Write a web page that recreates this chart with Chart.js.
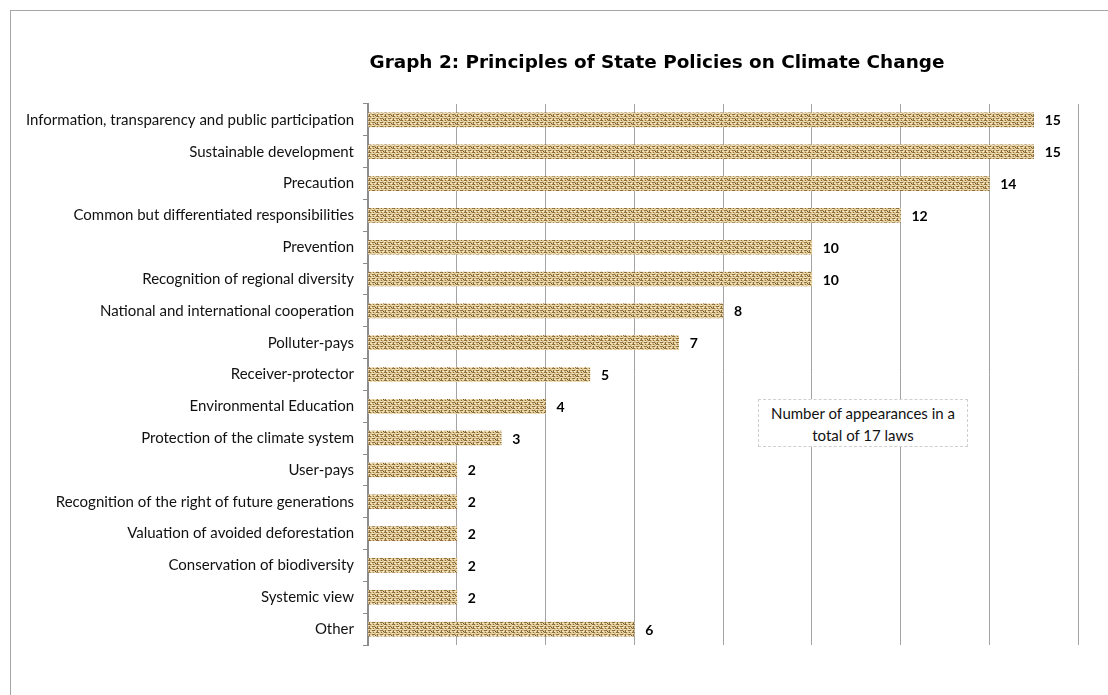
<!DOCTYPE html>
<html>
<head>
<meta charset="utf-8">
<script src="https://cdn.jsdelivr.net/npm/chart.js@4.4.0/dist/chart.umd.min.js"></script>
<style>
  body { margin: 0; background: #fff; overflow: hidden; }
  #wrap { position: relative; width: 1108px; height: 695px; }
  #frame { position: absolute; left: 10px; top: 10px; width: 1200px; height: 800px;
           border: 1px solid #a6a6a6; }
  #note { position: absolute; left: 758px; top: 399px; width: 210px; height: 48px;
          border: 1px dashed #cfcfcf; font: 15px Lato, "Open Sans", sans-serif; color: #111;
          text-align: center; line-height: 22px; box-sizing: border-box; padding-top: 2px; background: #fff; }
</style>
</head>
<body>
<div id="wrap">
  <div id="frame"></div>
  <canvas id="chart" width="1108" height="695"></canvas>
  <div id="note">Number of appearances in a<br>total of 17 laws</div>
</div>
<script>
"use strict"
// Data
const principles = [
  "Information, transparency and public participation",
  "Sustainable development",
  "Precaution",
  "Common but differentiated responsibilities",
  "Prevention",
  "Recognition of regional diversity",
  "National and international cooperation",
  "Polluter-pays",
  "Receiver-protector",
  "Environmental Education",
  "Protection of the climate system",
  "User-pays",
  "Recognition of the right of future generations",
  "Valuation of avoided deforestation",
  "Conservation of biodiversity",
  "Systemic view",
  "Other"
];
const appearances = [15, 15, 14, 12, 10, 10, 8, 7, 5, 4, 3, 2, 2, 2, 2, 2, 6];
const chartTitle = "Graph 2: Principles of State Policies on Climate Change";

// Burlap-ish pattern for the bars
function makeBurlap() {
  const c = document.createElement("canvas");
  c.width = 16; c.height = 8;
  const g = c.getContext("2d");
  g.fillStyle = "#dcc48e";
  g.fillRect(0, 0, 16, 8);
  // dark strands
  g.fillStyle = "#8f6d3b";
  for (let y = 0; y < 8; y += 2) {
    for (let x = 0; x < 16; x += 4) {
      if (((x / 4) + (y / 2)) % 2 === 0) g.fillRect(x, y, 3, 1);
      else g.fillRect(x + 1, y, 1, 2);
    }
  }
  // light highlights
  g.fillStyle = "#f3e6c4";
  for (let y = 1; y < 8; y += 2) {
    for (let x = (y % 4 === 1 ? 0 : 2); x < 16; x += 4) g.fillRect(x, y, 2, 1);
  }
  g.fillStyle = "#6e4f25";
  g.fillRect(7, 3, 1, 1);
  g.fillRect(15, 7, 1, 1);
  return g.createPattern(c, "repeat");
}

const ctx = document.getElementById("chart");

// Title + value labels
const extras = {
  id: "extras",
  afterDatasetsDraw(chart) {
    const c = chart.ctx;
    const meta = chart.getDatasetMeta(0);
    c.save();
    c.fillStyle = "#000";
    c.font = "bold 14px Lato, 'Open Sans', sans-serif";
    c.textBaseline = "middle";
    c.textAlign = "left";
    meta.data.forEach((bar, i) => {
      c.fillText(String(appearances[i]), bar.x + 11, bar.y + 1);
    });
    // title
    let size = 20;
    c.font = "900 " + size + "px 'DejaVu Sans', sans-serif";
    const w = c.measureText(chartTitle).width;
    size = size * 575 / w;
    c.font = "900 " + size + "px 'DejaVu Sans', sans-serif";
    c.textAlign = "center";
    c.fillText(chartTitle, 657, 63);
    c.restore();
  }
};

new Chart(ctx, {
  type: "bar",
  data: {
    labels: principles,
    datasets: [{
      data: appearances,
      backgroundColor: makeBurlap(),
      borderWidth: 0,
      barThickness: 14
    }]
  },
  options: {
    indexAxis: "y",
    responsive: false,
    animation: false,
    layout: { padding: { top: 104, bottom: 50, right: 30, left: 10 } },
    plugins: { legend: { display: false }, tooltip: { enabled: false }, title: { display: false } },
    scales: {
      x: {
        min: 0, max: 16,
        ticks: { display: false, stepSize: 2 },
        grid: { color: "#a3a3a3", lineWidth: 1, drawTicks: false },
        border: { display: false }
      },
      y: {
        afterFit: scale => { scale.width = 358; },
        ticks: { color: "#111", font: { family: "Lato, 'Open Sans', sans-serif", size: 15 }, padding: 9 },
        grid: { drawOnChartArea: false, drawTicks: true, tickLength: 5, color: "#8c8c8c" },
        border: { display: true, color: "#8c8c8c", width: 2 }
      }
    }
  },
  plugins: [extras]
});
</script>
</body>
</html>
